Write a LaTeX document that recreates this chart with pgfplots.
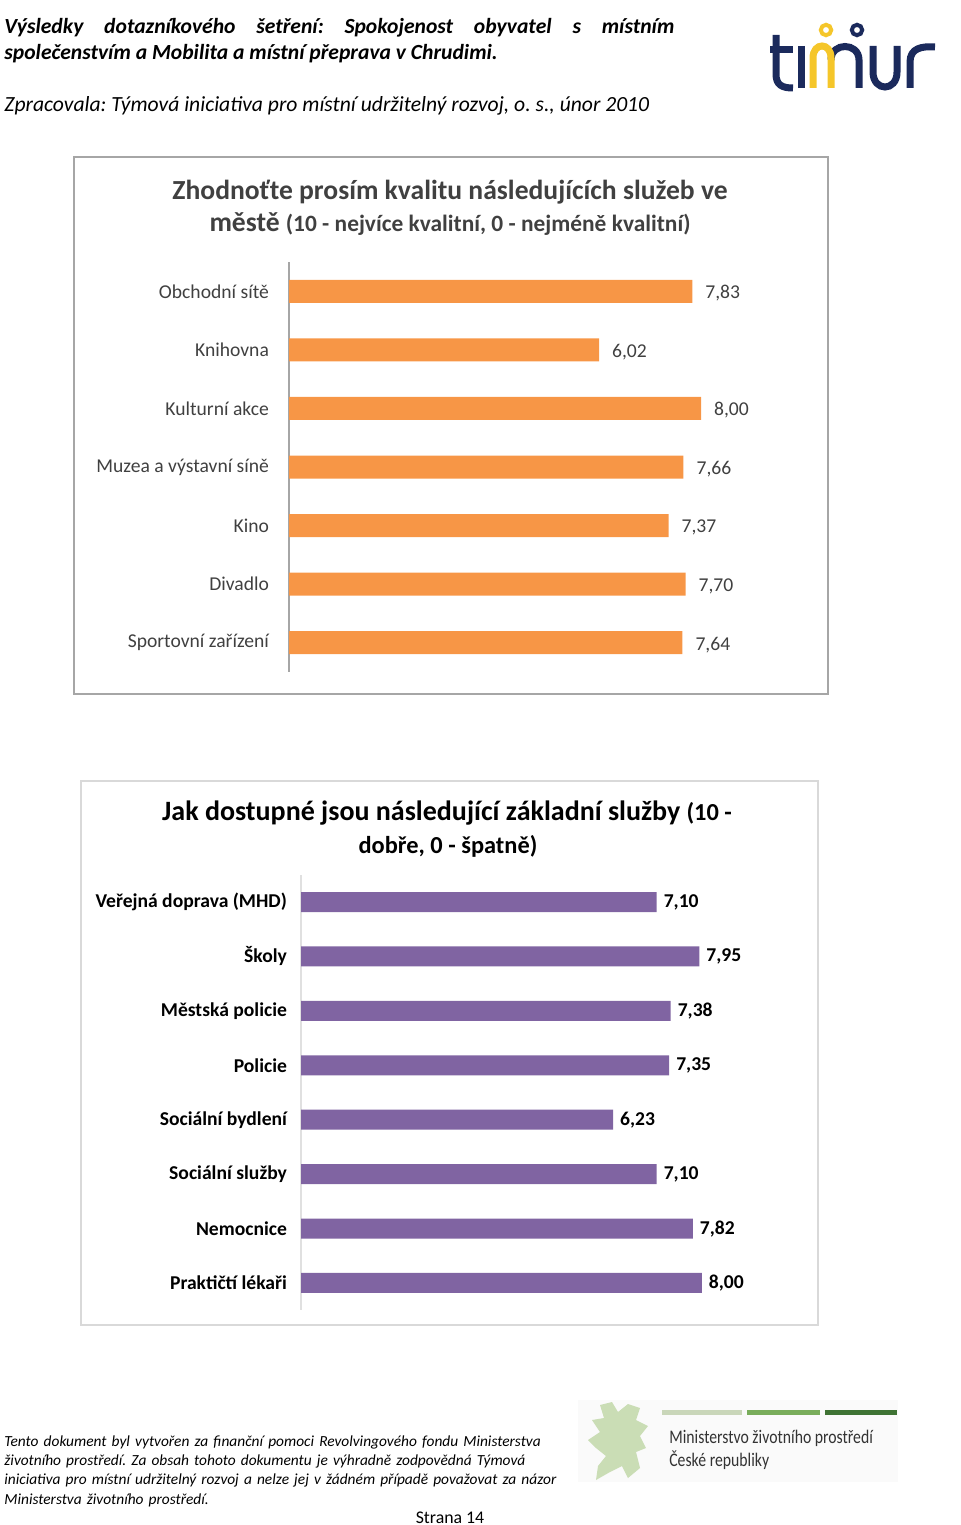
\documentclass[border=0pt]{standalone}
\usepackage{pgfplots}
\pgfplotsset{compat=1.18}
\usepackage{fontspec}
\setmainfont{Carlito}
\frenchspacing
\definecolor{orng}{HTML}{F79646}
\definecolor{purp}{HTML}{8064A2}
\definecolor{gtxt}{HTML}{404040}
\definecolor{navy}{HTML}{1B2A5C}
\definecolor{ylw}{HTML}{F5C62A}
\definecolor{lion}{HTML}{CADDB5}
\definecolor{gA}{HTML}{C9D6B9}
\definecolor{gB}{HTML}{79AD5B}
\definecolor{gC}{HTML}{3F7334}
\begin{document}
\frenchspacing
\begin{tikzpicture}[x=0.5pt,y=-0.5pt]
\useasboundingbox (0,0) rectangle (960,1525);
% header
\node[anchor=north west, inner sep=0pt, text width=335pt, align=justify,
  font=\fontsize{10.8}{13}\selectfont\bfseries\itshape] at (4,18)
  {Výsledky dotazníkového šetření: Spokojenost obyvatel s~místním\linebreak společenstvím a Mobilita a místní přeprava v Chrudimi.};
\node[anchor=base west, inner sep=0pt, font=\fontsize{10.8}{12}\selectfont\itshape] at (4,112)
  {Zpracovala: Týmová iniciativa pro místní udržitelný rozvoj, o. s., únor 2010};
% timur logo
\begin{scope}[line width=3.5pt, line cap=butt]
  \draw[navy] (776,35) -- (776,74) .. controls (776,85) and (782,88) .. (793,88);
  \draw[navy] (770,50) -- (793,50);
  \draw[navy] (801,46) -- (801,88);
  \draw[navy] (831,60) .. controls (831,42) and (859,42) .. (859,60) -- (859,88);
  \draw[ylw] (813,88) -- (813,58) .. controls (813,42) and (831,42) .. (831,58) -- (831,88);
  \draw[navy] (873,46) -- (873,72) .. controls (873,92) and (897,92) .. (897,72) -- (897,46);
  \draw[navy] (910,88) -- (910,62) .. controls (910,48) and (922,46) .. (935,47);
  \draw[ylw, line width=2pt] (826,30) circle[radius=2.6pt];
  \draw[navy, line width=2pt] (857,30) circle[radius=2.6pt];
\end{scope}
% chart 1 frame
\draw[color=black!35, line width=1pt] (74,157) rectangle (828,694);
\node[anchor=base, inner sep=0pt, text=gtxt, font=\fontsize{13.8}{15}\selectfont\bfseries] at (450,199)
  {Zhodnoťte prosím kvalitu následujících služeb ve};
\node[anchor=base, inner sep=0pt, text=gtxt, font=\fontsize{13.8}{15}\selectfont\bfseries] at (450,231)
  {městě {\fontsize{11.7}{13}\selectfont (10 - nejvíce kvalitní, 0 - nejméně kvalitní)}};
\begin{axis}[at={(144.5pt,-131pt)}, anchor=north west, scale only axis,
  width=257.5pt, height=205pt,
  xmin=0, xmax=10, ymin=-0.5, ymax=6.5, y dir=reverse,
  hide x axis, axis y line*=left, axis line style={color=black!35, line width=0.6pt},
  ytick={0,1,2,3,4,5,6}, major tick length=0pt,
  yticklabels={Obchodní sítě, Knihovna, Kulturní akce, Muzea a výstavní síně, Kino, Divadlo, Sportovní zařízení},
  yticklabel style={font=\fontsize{9.8}{11}\selectfont, text=gtxt, xshift=-6.5pt},
  /pgf/number format/assume math mode=true,
  xbar, bar width=11.5pt,
  nodes near coords={\pgfmathprintnumber[fixed,fixed zerofill,precision=2,use comma]{\pgfplotspointmeta}},
  nodes near coords style={font=\fontsize{9.8}{11}\selectfont, text=gtxt, anchor=west, xshift=3pt, yshift=-1pt},
  clip=false]
\addplot[fill=orng, draw=none] coordinates {(7.83,0) (6.02,1) (8.00,2) (7.66,3) (7.37,4) (7.70,5) (7.64,6)};
\end{axis}
% chart 2 frame
\draw[color=black!15, line width=0.6pt] (81,781) rectangle (818,1325);
\node[anchor=base, inner sep=0pt, font=\fontsize{14}{15}\selectfont\bfseries] at (447,820)
  {Jak dostupné jsou následující základní služby {\fontsize{12.2}{13}\selectfont (10 -}};
\node[anchor=base, inner sep=0pt, font=\fontsize{12.2}{13}\selectfont\bfseries] at (448,853)
  {dobře, 0 - špatně)};
\begin{axis}[at={(150.5pt,-437.4pt)}, anchor=north west, scale only axis,
  width=250.5pt, height=217.7pt,
  xmin=0, xmax=10, ymin=-0.5, ymax=7.5, y dir=reverse,
  hide x axis, axis y line*=left, axis line style={color=black!12, line width=0.6pt},
  ytick={0,1,2,3,4,5,6,7}, major tick length=0pt,
  yticklabels={Veřejná doprava (MHD), Školy, Městská policie, Policie, Sociální bydlení, Sociální služby, Nemocnice, Praktičtí lékaři},
  yticklabel style={font=\fontsize{9.8}{11}\selectfont\bfseries, xshift=-3.5pt},
  /pgf/number format/assume math mode=true,
  xbar, bar width=10pt,
  nodes near coords={\pgfmathprintnumber[fixed,fixed zerofill,precision=2,use comma]{\pgfplotspointmeta}},
  nodes near coords style={font=\fontsize{9.8}{11}\selectfont\bfseries, anchor=west, xshift=0pt},
  clip=false]
\addplot[fill=purp, draw=none] coordinates {(7.10,0) (7.95,1) (7.38,2) (7.35,3) (6.23,4) (7.10,5) (7.82,6) (8.00,7)};
\end{axis}
% footer
\node[anchor=north west, inner sep=0pt, text width=300pt, align=left,
  font=\fontsize{7.7}{9.65}\selectfont\itshape] at (4,1435)
  {Tento dokument byl vytvořen za finanční pomoci Revolvingového fondu Ministerstva\\
   životního prostředí. Za obsah tohoto dokumentu je výhradně zodpovědná Týmová\\
   iniciativa pro místní udržitelný rozvoj a nelze jej v žádném případě považovat za názor\\
   Ministerstva životního prostředí.};
\node[anchor=base, inner sep=0pt, font=\fontsize{8.9}{10}\selectfont] at (450,1523) {Strana 14};
% ministry logo
\fill[black!2] (578,1400) rectangle (898,1482);
\fill[lion] (600,1405) -- (612,1402) -- (618,1412) -- (628,1404) -- (640,1408) -- (636,1420)
  -- (648,1426) -- (640,1436) -- (646,1448) -- (636,1452) -- (640,1468) -- (628,1478)
  -- (622,1466) -- (610,1472) -- (596,1480) -- (598,1466) -- (606,1456) -- (596,1448)
  -- (588,1440) -- (600,1432) -- (592,1420) -- (604,1418) -- cycle;
\fill[gA] (662,1410) rectangle (742,1415);
\fill[gB] (747,1410) rectangle (820,1415);
\fill[gC] (825,1410) rectangle (897,1415);
\node[anchor=base west, inner sep=0pt, xscale=0.82, transform shape, text=black!80,
  font=\fontsize{9.6}{11}\selectfont] at (669,1443) {Ministerstvo životního prostředí};
\node[anchor=base west, inner sep=0pt, xscale=0.82, transform shape, text=black!80,
  font=\fontsize{9.6}{11}\selectfont] at (669,1466) {České republiky};
\end{tikzpicture}
\end{document}
